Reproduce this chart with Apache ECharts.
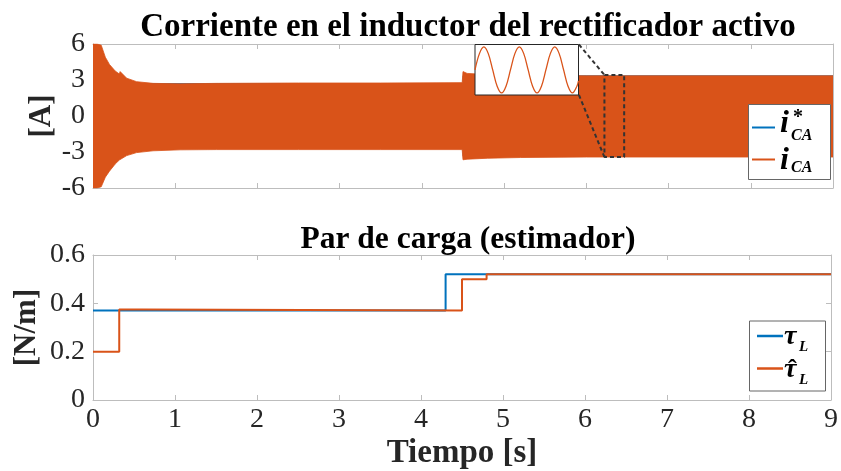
<!DOCTYPE html>
<html><head><meta charset="utf-8">
<script src="https://cdn.jsdelivr.net/npm/echarts@6/dist/echarts.min.js"></script>
<style>html,body{margin:0;padding:0;background:#fff}#c{width:841px;height:471px}</style>
</head><body><div id="c"></div>
<script>
// ---------- data ----------
// inductor current envelope (A) vs time (s)
const envT     = [0, 0.05, 0.1, 0.15, 0.2, 0.27, 0.32, 0.33, 0.41, 0.53, 0.73, 1.06, 1.5, 2.5, 3.5, 4.49, 4.5, 4.55, 4.8, 5.2, 6, 9];
const envUpper = [6, 6, 5.9, 4.9, 4.3, 3.75, 3.5, 3.7, 3.15, 2.86, 2.72, 2.68, 2.72, 2.75, 2.75, 2.78, 3.7, 3.55, 3.45, 3.38, 3.35, 3.35];
const envLower = [-6, -6, -5.9, -5.1, -4.6, -4.0, -3.67, -3.8, -3.3, -3.05, -2.9, -2.82, -2.8, -2.8, -2.8, -2.8, -3.65, -3.6, -3.52, -3.46, -3.42, -3.42];
// reference current envelope (hidden beneath the measured current)
const refT     = [0, 4.5, 9];
const refUpper = [2.7, 3.35, 3.35];
const refLower = [-2.7, -3.35, -3.35];
// zoomed inset: current samples (ms, A)
const insetT = [0, 2.5, 5, 7.5, 10, 12.5, 15, 17.5, 20, 22.5, 25, 27.5, 30, 32.5, 35, 37.5, 40, 42.5, 45, 47.5, 50, 52.5, 55, 57.5, 58.4];
const insetI = [0, 2.37, 3.35, 2.37, 0, -2.37, -3.35, -2.37, 0, 2.37, 3.35, 2.37, 0, -2.37, -3.35, -2.37, 0, 2.37, 3.35, 2.37, 0, -2.37, -3.35, -2.37, -1.6];
// zoom window marked on the main plot
const zoomRectT = [6.22, 6.46];
const zoomRectI = [3.42, -3.42];
const insetCornerT = 5.91;
const insetCornerI = [5.96, 1.75];
// load torque (N/m)
const tauT    = [0, 4.3, 9];
const tauL    = [0.37, 0.52, 0.52];
const tauHatT = [0, 0.32, 0.6, 4.5, 4.8, 9];
const tauHat  = [0.2, 0.375, 0.37, 0.50, 0.52, 0.52];
const xTicksMax = 9;

// ---------- chart ----------
const BLUE = '#0072BD', ORANGE = '#D95319', AX = '#bdbdbd', TXT = '#262626';
const FONT = 'Liberation Serif';
const pairs = (xs, ys) => xs.map((x, i) => [x, ys[i]]);

const tickLbl = {show: true, fontFamily: FONT, fontSize: 28, color: TXT};
function xAx(grid, pos, labels, extra) {
  return Object.assign({
    type: 'value', gridIndex: grid, position: pos, min: 0, max: xTicksMax, interval: 1,
    axisLine: {show: true, onZero: false, lineStyle: {color: AX, width: 1}},
    axisTick: {show: true, inside: true, length: 5, lineStyle: {color: AX}},
    axisLabel: labels ? Object.assign({margin: 6}, tickLbl) : {show: false},
    splitLine: {show: false}
  }, extra || {});
}
function yAx(grid, pos, min, max, iv, labels, extra) {
  return Object.assign({
    type: 'value', gridIndex: grid, position: pos, min: min, max: max, interval: iv,
    axisLine: {show: true, onZero: false, lineStyle: {color: AX, width: 1}},
    axisTick: {show: true, inside: true, length: 5, lineStyle: {color: AX}},
    axisLabel: labels ? Object.assign({margin: 8}, tickLbl) : {show: false},
    splitLine: {show: false}
  }, extra || {});
}
const nameStyle = {fontFamily: FONT, fontSize: 31, fontWeight: 'bold', color: TXT};

const dash = {color: '#333', width: 2, type: [4, 3]};
function markLine(data) {
  return {type: 'line', xAxisIndex: 0, yAxisIndex: 0, data: data, showSymbol: false, silent: true,
          lineStyle: dash, z: 4, animation: false};
}
function band(name, xs, ys, color, z) {
  return {type: 'line', name: name, xAxisIndex: 0, yAxisIndex: 0, data: pairs(xs, ys),
          showSymbol: false, lineStyle: {color: color, width: 0.8}, itemStyle: {color: color},
          areaStyle: {color: color, opacity: 1, origin: 0}, z: z, animation: false};
}
function stepBand(name, xs, ys, color, z) {
  const s = band(name, xs, ys, color, z); s.step = 'end'; return s;
}
const txt = (text, x, y, font) => ({type: 'text', z: 101,
  style: {text: text, x: x, y: y, font: font, fill: '#000', textVerticalAlign: 'middle', verticalAlign: 'middle'}});

const option = {
  backgroundColor: '#fff',
  animation: false,
  title: [
    {text: 'Corriente en el inductor del rectificador activo', left: 463, textAlign: 'center', top: 6,
     textStyle: {fontFamily: FONT, fontSize: 33, fontWeight: 'bold', color: '#000'}},
    {text: 'Par de carga (estimador)', left: 463, textAlign: 'center', top: 219,
     textStyle: {fontFamily: FONT, fontSize: 31.5, fontWeight: 'bold', color: '#000'}}
  ],
  grid: [
    {left: 93, top: 44, width: 740, height: 144},
    {left: 93, top: 255, width: 740, height: 145},
    {left: 475, top: 44.5, width: 103.5, height: 50.5, show: true, backgroundColor: '#fff',
     borderColor: '#262626', borderWidth: 1, z: 10}
  ],
  xAxis: [
    xAx(0, 'bottom', false),
    xAx(0, 'top', false),
    xAx(1, 'bottom', true, {name: 'Tiempo [s]', nameLocation: 'middle', nameGap: 37, nameMoveOverlap: false,
      nameTextStyle: Object.assign({}, nameStyle, {fontSize: 33})}),
    xAx(1, 'top', false),
    {type: 'value', gridIndex: 2, min: 0, max: 58.4, show: false}
  ],
  yAxis: [
    yAx(0, 'left', -6, 6, 3, true, {name: '[A]', nameLocation: 'middle', nameGap: 36, nameMoveOverlap: false, nameTextStyle: nameStyle}),
    yAx(0, 'right', -6, 6, 3, false),
    yAx(1, 'left', 0, 0.6, 0.2, true, {name: '[N/m]', nameLocation: 'middle', nameGap: 51, nameMoveOverlap: false, nameTextStyle: nameStyle}),
    yAx(1, 'right', 0, 0.6, 0.2, false),
    {type: 'value', gridIndex: 2, min: -3.65, max: 3.7, show: false}
  ],
  series: [
    stepBand('iref', refT, refUpper, BLUE, 1),
    stepBand('iref', refT, refLower, BLUE, 1),
    band('ica', envT, envUpper, ORANGE, 2),
    band('ica', envT, envLower, ORANGE, 2),
    markLine([[insetCornerT, insetCornerI[0]], [zoomRectT[0], zoomRectI[0]]]),
    markLine([[insetCornerT, insetCornerI[1]], [zoomRectT[0], zoomRectI[1]]]),
    markLine([[zoomRectT[0], zoomRectI[0]], [zoomRectT[1], zoomRectI[0]], [zoomRectT[1], zoomRectI[1]],
              [zoomRectT[0], zoomRectI[1]], [zoomRectT[0], zoomRectI[0]]]),
    {type: 'line', name: 'inset', xAxisIndex: 4, yAxisIndex: 4, data: pairs(insetT, insetI), smooth: 0.35,
     showSymbol: false, lineStyle: {color: ORANGE, width: 1.3}, z: 12, silent: true},
    {type: 'line', name: 'tau', xAxisIndex: 2, yAxisIndex: 2, data: pairs(tauT, tauL), step: 'end',
     showSymbol: false, lineStyle: {color: BLUE, width: 2}, itemStyle: {color: BLUE}, z: 2},
    {type: 'line', name: 'tauhat', xAxisIndex: 2, yAxisIndex: 2, data: pairs(tauHatT, tauHat), step: 'end',
     showSymbol: false, lineStyle: {color: ORANGE, width: 2}, itemStyle: {color: ORANGE}, z: 3}
  ],
  graphic: [
    // legend of the top panel
    {type: 'rect', z: 100, shape: {x: 748.5, y: 104.5, width: 82, height: 75}, style: {fill: '#fff', stroke: '#666', lineWidth: 1}},
    {type: 'line', z: 101, shape: {x1: 752, y1: 127.5, x2: 775, y2: 127.5}, style: {stroke: BLUE, lineWidth: 2}},
    {type: 'line', z: 101, shape: {x1: 752, y1: 159.5, x2: 775, y2: 159.5}, style: {stroke: ORANGE, lineWidth: 2}},
    txt('i', 780, 124, 'italic bold 32px "Liberation Serif"'),
    txt('*', 793, 118, 'bold 20px "Liberation Serif"'),
    txt('CA', 791, 136, 'italic bold 16px "Liberation Serif"'),
    txt('i', 780, 161, 'italic bold 32px "Liberation Serif"'),
    txt('CA', 791, 168, 'italic bold 16px "Liberation Serif"'),
    // legend of the bottom panel
    {type: 'rect', z: 100, shape: {x: 749.5, y: 321, width: 76, height: 70}, style: {fill: '#fff', stroke: '#666', lineWidth: 1}},
    {type: 'line', z: 101, shape: {x1: 757, y1: 336, x2: 783, y2: 336}, style: {stroke: BLUE, lineWidth: 2.5}},
    {type: 'line', z: 101, shape: {x1: 757, y1: 368.5, x2: 783, y2: 368.5}, style: {stroke: ORANGE, lineWidth: 2.5}},
    txt('τ', 784, 337, 'italic bold 28px "Liberation Serif"'),
    txt('L', 799, 347, 'italic bold 15px "Liberation Serif"'),
    txt('ˆ', 788, 370, 'bold 26px "Liberation Serif"'),
    txt('τ', 784, 370, 'italic bold 28px "Liberation Serif"'),
    txt('L', 799, 380, 'italic bold 15px "Liberation Serif"')
  ]
};
const chart = echarts.init(document.getElementById('c'), null, {renderer: 'canvas'});
chart.setOption(option);
</script>
</body></html>
